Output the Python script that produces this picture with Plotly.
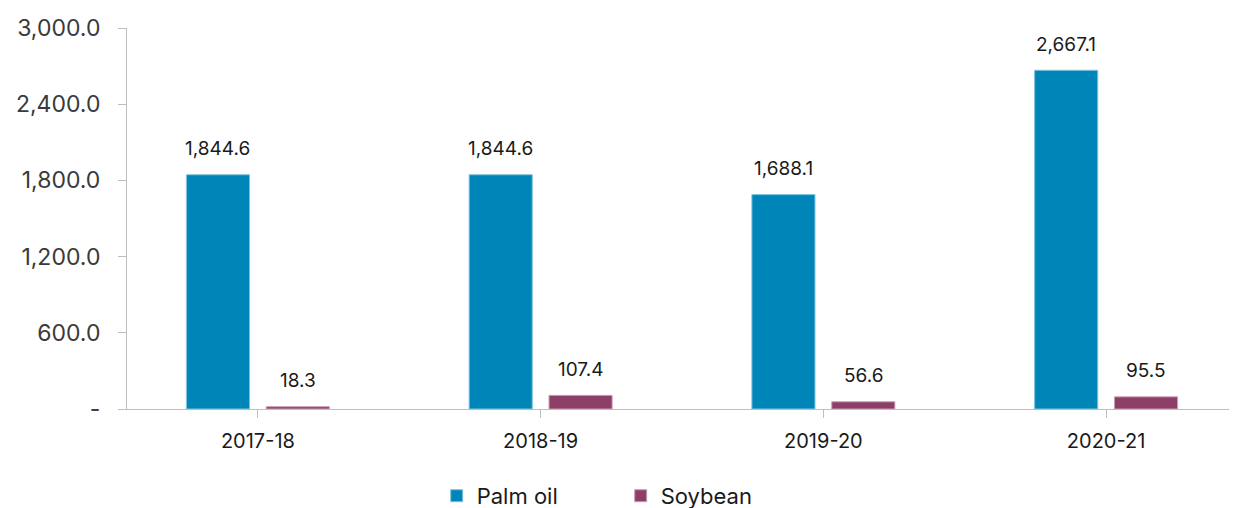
import plotly.graph_objects as go

categories = ["2017-18", "2018-19", "2019-20", "2020-21"]
palm_oil = [1844.6, 1844.6, 1688.1, 2667.1]
soybean = [18.3, 107.4, 56.6, 95.5]
y_ticks = [0, 600, 1200, 1800, 2400, 3000]
y_tick_labels = ["-", "600.0", "1,200.0", "1,800.0", "2,400.0", "3,000.0"]

FONT = "Inter"
PALM = "#0085B8"
SOY = "#8E3F68"

fig = go.Figure()
fig.add_trace(go.Bar(x=categories, y=palm_oil, name="Palm oil",
                     marker=dict(color=PALM, line=dict(color="#7fc3df", width=1))))
fig.add_trace(go.Bar(x=categories, y=soybean, name="Soybean",
                     marker=dict(color=SOY, line=dict(color="#c79fb3", width=1))))

annotations = []
for cat, v in zip(categories, palm_oil):
    annotations.append(dict(x=cat, y=v, text=f"{v:,.1f}", showarrow=False,
                            xshift=-40, yshift=26, xref="x", yref="y",
                            font=dict(family=FONT, size=19, color="#1a1a1a")))
for cat, v in zip(categories, soybean):
    annotations.append(dict(x=cat, y=v, text=f"{v:,.1f}", showarrow=False,
                            xshift=40, yshift=26, xref="x", yref="y",
                            font=dict(family=FONT, size=19, color="#1a1a1a")))

fig.update_layout(
    width=1229, height=520,
    margin=dict(l=119, r=0, t=20, b=119),
    paper_bgcolor="white", plot_bgcolor="white",
    barmode="group", bargap=0.435, bargroupgap=0.21,
    font=dict(family=FONT, size=18, color="#1a1a1a"),
    annotations=annotations,
    showlegend=True,
    legend=dict(orientation="h", x=0.279, xanchor="left", y=-0.173, yanchor="top",
                font=dict(family=FONT, size=22, color="#1a1a1a"),
                entrywidth=139, entrywidthmode="pixels", traceorder="normal"),
)
fig.update_xaxes(range=[-0.463, 3.463], showline=True, linecolor="#bfbfbf", linewidth=1,
                 ticks="outside", ticklen=8, tickcolor="#bfbfbf", ticklabelstandoff=6,
                 tickfont=dict(family=FONT, size=20, color="#1a1a1a"),
                 showgrid=False, zeroline=False)
fig.update_yaxes(range=[0, 3000], tickvals=y_ticks, ticktext=y_tick_labels,
                 showline=True, linecolor="#bfbfbf", linewidth=1,
                 ticks="outside", ticklen=8, tickcolor="#bfbfbf", ticklabelstandoff=13,
                 tickfont=dict(family=FONT, size=23, color="#3a3a3a"),
                 showgrid=False, zeroline=False)

fig.write_html("out.html")
